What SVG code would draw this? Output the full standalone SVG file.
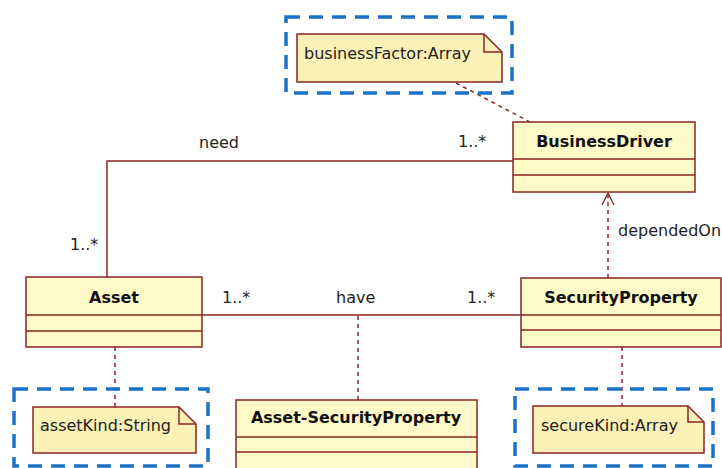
<svg xmlns="http://www.w3.org/2000/svg" width="722" height="468" viewBox="0 0 722 468">
<defs>
<style>
.cls{fill:#FFFAC8;stroke:#8B2525;stroke-width:1.5}
.ln{stroke:#8B2525;stroke-width:1.5;fill:none}
.note{fill:#FBF0B6;stroke:#8B2525;stroke-width:1.5}
.dash{stroke:#8B2525;stroke-width:1.5;fill:none;stroke-dasharray:4 4}
.blue{fill:none;stroke:#1A72C6;stroke-width:3.5;stroke-dasharray:14 9}
.name{font-family:"DejaVu Sans",sans-serif;font-weight:bold;font-size:16px;fill:#111;text-anchor:middle}
.t{font-family:"DejaVu Sans",sans-serif;font-size:16px;fill:#222}
</style>
<marker id="open" viewBox="0 0 14 14" refX="13" refY="7" markerWidth="14" markerHeight="14" markerUnits="userSpaceOnUse" orient="auto">
<path d="M1,1 L13,7 L1,13" fill="none" stroke="#8B2525" stroke-width="1.3"/>
</marker>
</defs>
<rect width="722" height="468" fill="#fff"/>
<g id="connectors">
<polyline class="ln" points="513,161 107,161 107,277"/>
<line class="ln" x1="202" y1="315" x2="521" y2="315"/>
<line class="dash" x1="456" y1="83" x2="530" y2="122"/>
<line class="dash" x1="608" y1="278" x2="608" y2="193" marker-end="url(#open)"/>
<line class="dash" x1="358" y1="316" x2="358" y2="400"/>
<line class="dash" x1="115" y1="347" x2="115" y2="407"/>
<line class="dash" x1="622" y1="347" x2="622" y2="406"/>
<text class="t" x="199" y="148">need</text>
<text class="t" x="458" y="147">1..*</text>
<text class="t" x="70" y="250">1..*</text>
<text class="t" x="222" y="303">1..*</text>
<text class="t" x="336" y="303">have</text>
<text class="t" x="467" y="303">1..*</text>
<text class="t" x="618" y="236">dependedOn</text>
</g>
<g id="businessFactorNote">
<rect class="blue" x="286" y="17" width="226" height="76"/>
<path class="note" d="M297,34 H484 L502,52 V82 H297 Z"/>
<path class="ln" d="M484,34 V52 H502"/>
<text class="t" x="304" y="59">businessFactor:Array</text>
</g>
<g id="BusinessDriver">
<rect class="cls" x="513" y="122" width="182" height="70"/>
<line class="ln" x1="513" y1="159" x2="695" y2="159"/>
<line class="ln" x1="513" y1="175" x2="695" y2="175"/>
<text class="name" x="604" y="147">BusinessDriver</text>
</g>
<g id="Asset">
<rect class="cls" x="26" y="277" width="176" height="70"/>
<line class="ln" x1="26" y1="315" x2="202" y2="315"/>
<line class="ln" x1="26" y1="331" x2="202" y2="331"/>
<text class="name" x="114" y="303">Asset</text>
</g>
<g id="SecurityProperty">
<rect class="cls" x="521" y="278" width="200" height="69"/>
<line class="ln" x1="521" y1="315" x2="721" y2="315"/>
<line class="ln" x1="521" y1="330" x2="721" y2="330"/>
<text class="name" x="621" y="303">SecurityProperty</text>
</g>
<g id="AssetSecurityProperty">
<rect class="cls" x="236" y="400" width="241" height="75"/>
<line class="ln" x1="236" y1="437" x2="477" y2="437"/>
<line class="ln" x1="236" y1="452" x2="477" y2="452"/>
<text class="name" x="356" y="423">Asset-SecurityProperty</text>
</g>
<g id="assetKindNote">
<rect class="blue" x="14" y="389" width="194" height="77"/>
<path class="note" d="M33,407 H179 L196,424 V453 H33 Z"/>
<path class="ln" d="M179,407 V424 H196"/>
<text class="t" x="40" y="431">assetKind:String</text>
</g>
<g id="secureKindNote">
<rect class="blue" x="515" y="389" width="198" height="77"/>
<path class="note" d="M533,406 H688 L704,422 V453 H533 Z"/>
<path class="ln" d="M688,406 V422 H704"/>
<text class="t" x="541" y="431">secureKind:Array</text>
</g>
</svg>
